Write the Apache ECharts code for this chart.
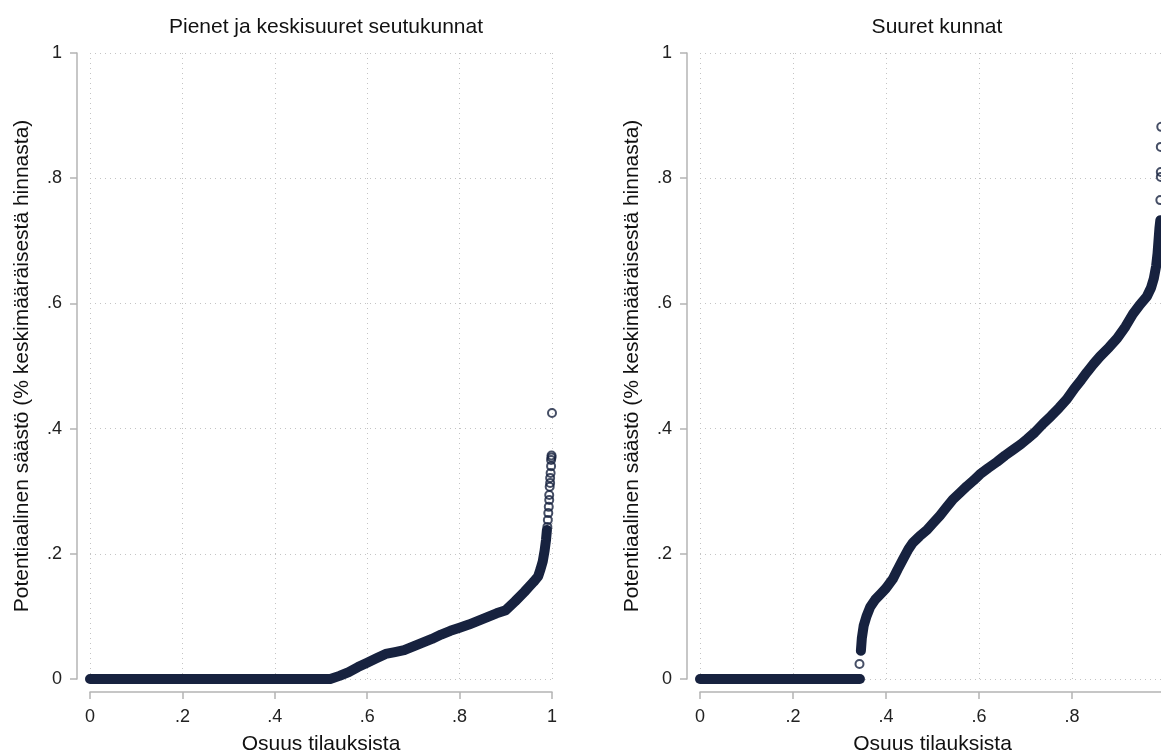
<!DOCTYPE html>
<html>
<head>
<meta charset="utf-8">
<script src="https://cdn.jsdelivr.net/npm/echarts@6/dist/echarts.min.js"></script>
<style>
    body { margin: 0; background: #fff; }
    #chart { width: 1161px; height: 754px; }
</style>
</head>
<body>
<div id="chart"></div>
<script>
// Pienet ja keskisuuret seutukunnat: dense part of the sorted points
var leftBandX = [0, 0.1, 0.2, 0.3, 0.4, 0.5, 0.52, 0.54, 0.56, 0.58, 0.60, 0.62, 0.64, 0.66, 0.68, 0.70,
    0.72, 0.74, 0.76, 0.78, 0.80, 0.82, 0.84, 0.86, 0.88, 0.90, 0.92, 0.94, 0.95, 0.96, 0.97,
    0.975, 0.98, 0.984, 0.987, 0.989];
var leftBandY = [0, 0, 0, 0, 0, 0, 0, 0.005, 0.011, 0.019, 0.026, 0.033, 0.040, 0.043, 0.046, 0.052,
    0.058, 0.064, 0.071, 0.077, 0.082, 0.087, 0.093, 0.099, 0.105, 0.110, 0.124, 0.139, 0.147, 0.155, 0.164,
    0.175, 0.188, 0.205, 0.222, 0.238];
// sparse top of the left panel
var leftTailX = [0.990, 0.991, 0.992, 0.993, 0.994, 0.994, 0.995, 0.996, 0.996, 0.997, 0.998, 0.998, 0.999, 0.999, 1.0];
var leftTailY = [0.243, 0.254, 0.265, 0.275, 0.286, 0.294, 0.307, 0.313, 0.321, 0.329, 0.340, 0.350, 0.354, 0.357, 0.425];

// Suuret kunnat
var rightZeroX = [0, 0.1, 0.2, 0.3, 0.344];
var rightZeroY = [0, 0, 0, 0, 0];
var rightBandX = [0.346, 0.348, 0.352, 0.358, 0.366, 0.377, 0.390, 0.400, 0.415, 0.425, 0.437, 0.448,
    0.458, 0.472, 0.488, 0.500, 0.516, 0.530, 0.544, 0.560, 0.574, 0.588, 0.602, 0.620, 0.639, 0.656,
    0.673, 0.690, 0.703, 0.720, 0.738, 0.755, 0.772, 0.789, 0.805, 0.820, 0.832, 0.846, 0.860, 0.880,
    0.897, 0.915, 0.931, 0.946, 0.961, 0.970, 0.976, 0.981, 0.984, 0.986, 0.988, 0.990];
var rightBandY = [0.045, 0.065, 0.085, 0.100, 0.115, 0.127, 0.137, 0.145, 0.160, 0.175, 0.192, 0.207,
    0.218, 0.228, 0.238, 0.248, 0.261, 0.274, 0.287, 0.298, 0.308, 0.317, 0.327, 0.337, 0.347, 0.357,
    0.366, 0.375, 0.383, 0.394, 0.408, 0.420, 0.433, 0.447, 0.464, 0.478, 0.490, 0.503, 0.515, 0.530,
    0.544, 0.563, 0.583, 0.598, 0.611, 0.625, 0.640, 0.660, 0.680, 0.700, 0.720, 0.733];
var rightTailX = [0.343, 0.990, 0.991, 0.991, 0.991, 0.992];
var rightTailY = [0.024, 0.765, 0.802, 0.810, 0.850, 0.882];

var titles = ['Pienet ja keskisuuret seutukunnat', 'Suuret kunnat'];
var xTitle = 'Osuus tilauksista';
var yTitle = 'Potentiaalinen säästö (% keskimääräisestä hinnasta)';

var navy = '#17223f';
var font = 'Liberation Sans, Arial, sans-serif';

function pairs(xs, ys) {
    var out = [];
    for (var i = 0; i < xs.length; i++) out.push([xs[i], ys[i]]);
    return out;
}

function tickFmt(v) {
    if (v === 0) return '0';
    if (v === 1) return '1';
    return v.toFixed(1).replace(/^0/, '');
}

function xAxisFor(idx) {
    return {
        gridIndex: idx, type: 'value', min: 0, max: 1, interval: 0.2, offset: 13,
        name: xTitle, nameLocation: 'middle', nameGap: 42,
        nameTextStyle: {fontSize: 21, color: '#111', fontFamily: font},
        axisLine: {show: true, onZero: false, lineStyle: {color: '#b4b4b4', width: 1.5}},
        axisTick: {show: true, length: 7, lineStyle: {color: '#b4b4b4', width: 1.5}},
        axisLabel: {formatter: tickFmt, fontSize: 18, color: '#222', margin: 16, fontFamily: font},
        splitLine: {show: true, lineStyle: {color: '#c4c4c4', type: [1, 4], width: 1}}
    };
}

function yAxisFor(idx) {
    return {
        gridIndex: idx, type: 'value', min: 0, max: 1, interval: 0.2, offset: 13,
        name: yTitle, nameLocation: 'middle', nameGap: 44,
        nameTextStyle: {fontSize: 21, color: '#111', fontFamily: font},
        axisLine: {show: true, onZero: false, lineStyle: {color: '#b4b4b4', width: 1.5}},
        axisTick: {show: true, length: 7, lineStyle: {color: '#b4b4b4', width: 1.5}},
        axisLabel: {formatter: tickFmt, fontSize: 18, color: '#222', margin: 15, fontFamily: font},
        splitLine: {show: true, lineStyle: {color: '#c4c4c4', type: [1, 4], width: 1}}
    };
}

function band(idx, data) {
    return {
        type: 'line', xAxisIndex: idx, yAxisIndex: idx, data: data,
        showSymbol: false, silent: true, animation: false,
        lineStyle: {color: navy, width: 10, cap: 'round', join: 'round'}
    };
}

function hollow(idx, data) {
    return {
        type: 'scatter', xAxisIndex: idx, yAxisIndex: idx, data: data,
        symbol: 'circle', symbolSize: 8, animation: false,
        itemStyle: {color: 'rgba(0,0,0,0)', borderColor: navy, borderWidth: 2}
    };
}

var chart = echarts.init(document.getElementById('chart'));
chart.setOption({
    backgroundColor: '#fff',
    title: [
        {text: titles[0], left: 321, top: 12, textAlign: 'center',
            textStyle: {fontSize: 21, fontWeight: 'normal', color: '#111', fontFamily: font}},
        {text: titles[1], left: 932, top: 12, textAlign: 'center',
            textStyle: {fontSize: 21, fontWeight: 'normal', color: '#111', fontFamily: font}}
    ],
    grid: [
        {left: 90, top: 53, width: 462, height: 626, outerBoundsMode: 'none'},
        {left: 700, top: 53, width: 465, height: 626, outerBoundsMode: 'none'}
    ],
    xAxis: [xAxisFor(0), xAxisFor(1)],
    yAxis: [yAxisFor(0), yAxisFor(1)],
    series: [
        band(0, pairs(leftBandX, leftBandY)),
        hollow(0, pairs(leftTailX, leftTailY)),
        band(1, pairs(rightZeroX, rightZeroY)),
        band(1, pairs(rightBandX, rightBandY)),
        hollow(1, pairs(rightTailX, rightTailY))
    ]
});
</script>
</body>
</html>
